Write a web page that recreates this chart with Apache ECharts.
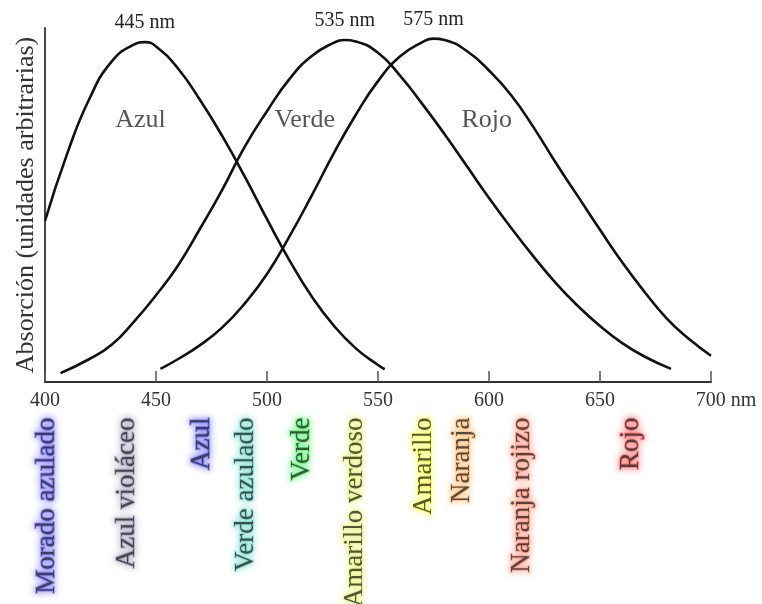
<!DOCTYPE html>
<html>
<head>
<meta charset="utf-8">
<script src="https://cdn.jsdelivr.net/npm/echarts@6/dist/echarts.min.js"></script>
<style>
  html, body { margin: 0; padding: 0; background: #fff; }
  #chart { width: 762px; height: 604px; }
</style>
</head>
<body>
<div id="chart"></div>
<script>
// Cone absorption curves (wavelength in nm, absorption in arbitrary units)
const azulNm  = [400, 410, 420, 430, 440, 445, 450, 460, 470, 480, 490, 500, 510, 520, 530, 540, 550, 553];
const azulAbs = [0.455, 0.645, 0.80, 0.905, 0.953, 0.96, 0.948, 0.885, 0.795, 0.693, 0.58, 0.46, 0.345, 0.243, 0.16, 0.095, 0.048, 0.036];

const verdeNm  = [407, 420, 430, 440, 450, 460, 470, 480, 490, 500, 510, 520, 530, 535, 540, 550, 560, 570, 580, 590, 600, 610, 620, 630, 640, 650, 660, 670, 682];
const verdeAbs = [0.025, 0.065, 0.105, 0.17, 0.245, 0.33, 0.435, 0.545, 0.665, 0.765, 0.855, 0.92, 0.958, 0.966, 0.962, 0.93, 0.865, 0.785, 0.70, 0.61, 0.52, 0.435, 0.355, 0.28, 0.215, 0.158, 0.11, 0.072, 0.037];

const rojoNm  = [452, 460, 470, 480, 490, 500, 510, 520, 530, 540, 550, 560, 570, 575, 580, 590, 600, 610, 620, 630, 640, 650, 660, 670, 680, 690, 700];
const rojoAbs = [0.037, 0.065, 0.105, 0.155, 0.222, 0.305, 0.41, 0.525, 0.645, 0.755, 0.85, 0.92, 0.96, 0.97, 0.966, 0.935, 0.88, 0.81, 0.72, 0.62, 0.525, 0.43, 0.338, 0.255, 0.18, 0.122, 0.074];

// Curve names and where they sit inside the plot (data coordinates)
const curveNames   = ['Azul', 'Verde', 'Rojo'];
const curveNameNm  = [443, 517, 599];
const curveNameAbs = [0.739, 0.739, 0.739];

// Axis ticks
const xTicks = [400, 450, 500, 550, 600, 650, 700];

// Perceived colour names along the spectrum
const colorNames = ['Morado azulado', 'Azul violáceo', 'Azul', 'Verde azulado', 'Verde',
                    'Amarillo verdoso', 'Amarillo', 'Naranja', 'Naranja rojizo', 'Rojo'];
const colorNm    = [401, 437, 471, 490.5, 516, 540, 571, 588, 615, 664];
const colorGlow  = ['#5a4dff', '#8c88a8', '#3f3fff', '#55d0c0', '#2fee4c',
                    '#e3ee5c', '#fbff2e', '#ffaa55', '#ff7458', '#ff4040'];

const SERIF = '"Liberation Serif", "DejaVu Serif", serif';
const INK = '#111';

const zip = (xs, ys) => xs.map((x, i) => [x, ys[i]]);

function peakOf(xs, ys) {
  let k = 0;
  ys.forEach((v, i) => { if (v > ys[k]) k = i; });
  return [xs[k], ys[k]];
}

function curve(name, xs, ys) {
  const peak = peakOf(xs, ys);
  return {
    name: name,
    type: 'line',
    xAxisIndex: 0, yAxisIndex: 0,
    data: zip(xs, ys),
    smooth: 0.5,
    showSymbol: false,
    symbol: 'none',
    lineStyle: { color: INK, width: 2.6 },
    silent: true,
    markPoint: {
      symbol: 'circle',
      symbolSize: 0,
      data: [{ coord: peak, value: peak[0] }],
      label: {
        show: true,
        position: 'top',
        distance: 9,
        formatter: '{c} nm',
        fontFamily: SERIF,
        fontSize: 20,
        color: '#222'
      }
    }
  };
}

const chart = echarts.init(document.getElementById('chart'), null, { renderer: 'canvas' });

chart.setOption({
  animation: false,
  backgroundColor: '#fff',
  grid: [
    { left: 45, right: 51, top: 28, bottom: 222 },
    { left: 45, right: 51, top: 418, height: 10 }
  ],
  xAxis: [
    {
      type: 'value',
      gridIndex: 0,
      min: 400, max: 700, interval: 50,
      axisLine: { show: true, lineStyle: { color: '#333', width: 2 } },
      axisTick: { show: true, inside: true, length: 11, lineStyle: { color: '#555', width: 1.5 } },
      splitLine: { show: false },
      axisLabel: {
        margin: 9,
        fontFamily: SERIF,
        fontSize: 20,
        color: '#333',
        showMinLabel: true,
        showMaxLabel: true,
        formatter: v => (v === xTicks[xTicks.length - 1] ? '{last|' + v + ' nm}' : String(v)),
        rich: {
          last: { fontFamily: SERIF, fontSize: 20, color: '#333', padding: [0, 0, 0, 30] }
        }
      }
    },
    {
      type: 'value',
      gridIndex: 1,
      min: 400, max: 700,
      show: false
    }
  ],
  yAxis: [
    {
      type: 'value',
      gridIndex: 0,
      min: 0, max: 1,
      axisLine: { show: true, lineStyle: { color: '#444', width: 2 } },
      axisTick: { show: false },
      axisLabel: { show: false },
      splitLine: { show: false },
      name: 'Absorción (unidades arbitrarias)',
      nameLocation: 'middle',
      nameGap: 6,
      nameTextStyle: { fontFamily: SERIF, fontSize: 26, color: '#333' }
    },
    {
      type: 'value',
      gridIndex: 1,
      min: 0, max: 1,
      show: false
    }
  ],
  series: [
    curve('Azul', azulNm, azulAbs),
    curve('Verde', verdeNm, verdeAbs),
    curve('Rojo', rojoNm, rojoAbs),
    {
      name: 'nombres',
      type: 'scatter',
      xAxisIndex: 0, yAxisIndex: 0,
      symbolSize: 0,
      silent: true,
      data: curveNames.map((n, i) => ({ name: n, value: [curveNameNm[i], curveNameAbs[i]] })),
      label: {
        show: true,
        position: 'inside',
        formatter: p => p.name,
        fontFamily: SERIF,
        fontSize: 26,
        color: '#2b2b2b'
      }
    },
    {
      name: 'colores',
      type: 'scatter',
      xAxisIndex: 1, yAxisIndex: 1,
      symbolSize: 1,
      itemStyle: { color: 'rgba(0,0,0,0)' },
      silent: true,
      clip: false,
      data: colorNames.map((n, i) => ({
        name: n,
        value: [colorNm[i], 1],
        label: {
          textShadowColor: colorGlow[i],
          textBorderColor: colorGlow[i] + '88'
        }
      })),
      label: {
        show: true,
        position: [0, 0],
        rotate: 90,
        align: 'right',
        verticalAlign: 'middle',
        formatter: p => p.name,
        fontFamily: SERIF,
        fontSize: 27,
        color: '#2a2a2a',
        textShadowBlur: 7,
        textBorderWidth: 2
      }
    }
  ]
});
</script>
</body>
</html>
